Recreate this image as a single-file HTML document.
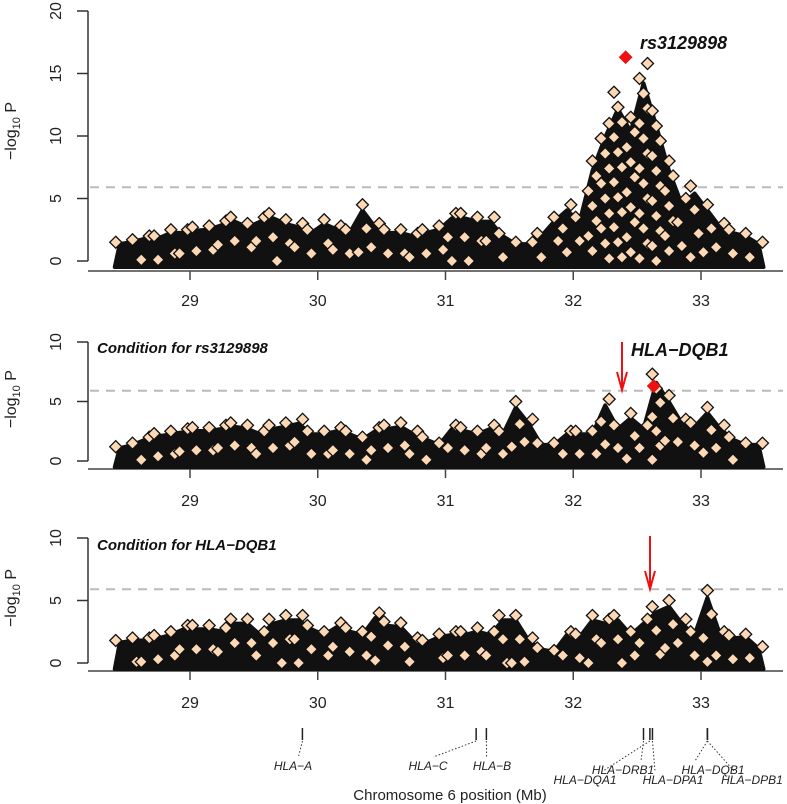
<!DOCTYPE html>
<html><head><meta charset="utf-8"><style>
body{margin:0;background:#fff}
svg{display:block}
text{font-family:"Liberation Sans",Arial,sans-serif}
</style></head><body>
<svg id="chart" width="787" height="804" viewBox="0 0 787 804" xmlns="http://www.w3.org/2000/svg"></svg>
<script>
// Bin positions (Mb) and per-panel peak -log10 P values
const positions = [28.45,28.55,28.65,28.75,28.85,28.95,29.05,29.15,29.25,29.35,29.45,29.55,29.65,29.75,29.85,29.95,30.05,30.15,30.25,30.35,30.45,30.55,30.65,30.75,30.85,30.95,31.05,31.15,31.25,31.35,31.45,31.55,31.65,31.75,31.85,31.95,32.05,32.15,32.25,32.35,32.45,32.55,32.65,32.75,32.85,32.95,33.05,33.15,33.25,33.35,33.45];
const panel1Values = [1.5,1.7,2,2,2.5,2.5,2.7,2.8,3.2,3.5,3,3.5,3.8,3.3,3,2.5,3.3,2.8,2.5,4.5,3,2.5,2.5,2.2,2.5,2.8,3.8,3.8,3.5,3.5,2.2,1.5,1.5,2.2,3.5,4.5,3.5,8,11,13.5,11.5,15.8,12,8,5,6,4.5,3,2.5,2.2,1.5];
const panel2Values = [1.2,1.5,2,2.3,2.5,2.7,2.8,2.8,3,3.2,3,2.5,3,3.2,3.5,2.5,2.5,2.8,2.5,2,2.8,3,3.2,2.5,2,1.5,3,2.8,2.5,3,2.5,5,3.5,1.5,1.5,2.5,2.5,2.5,5.2,3,4,3,7.3,5.5,3.5,3.2,4.5,3,2,1.5,1.5];
const panel3Values = [1.8,2,2,2.2,2.5,3,3,3,2.8,3.5,3.5,2.5,3.5,3.8,3.8,3,2.5,3.2,2.8,2.5,4,3.3,3.2,2,1.8,2.3,2.5,2.5,2.8,2.5,3.8,3.8,2,1.2,1,2.5,2.3,3.8,3.5,3.8,2.5,3.5,4.5,5,3.5,2.5,5.8,2.5,2.2,2.3,1.3];
const xTicks = [29,30,31,32,33];
const panel1YTicks = [0,5,10,15,20];
const smallYTicks = [0,5,10];
const threshold = 5.9;
const leadSnp = [32.41, 16.3];
const condSnp = [32.63, 6.3];
const genes = ["HLA-A","HLA-C","HLA-B","HLA-DRB1","HLA-DQA1","HLA-DPA1","HLA-DQB1","HLA-DPB1"];
const genePos = [29.88,31.24,31.32,32.55,32.6,32.62,33.05,33.05];

const NS="http://www.w3.org/2000/svg";
const svg=document.getElementById('chart');
function mk(tag,attrs,parent){const e=document.createElementNS(NS,tag);for(const k in attrs)e.setAttribute(k,attrs[k]);(parent||svg).appendChild(e);return e;}
const xS=v=>190+(v-29)*127.75;
const panels=[
 {vals:panel1Values,y0:261,k:12.5,max:20,ticks:panel1YTicks,axisY:271,labY:306,name:'panel-unconditional'},
 {vals:panel2Values,y0:461,k:11.9,max:10,ticks:smallYTicks,axisY:469,labY:506,name:'panel-condition-rs3129898'},
 {vals:panel3Values,y0:663,k:12.5,max:10,ticks:smallYTicks,axisY:671,labY:708,name:'panel-condition-hla-dqb1'}
];
function diamond(cx,cy,fill,g){const r=6;const p=mk('polygon',{points:`${cx},${cy-r} ${cx+r},${cy} ${cx},${cy+r} ${cx-r},${cy}`,fill:fill,stroke:'#111','stroke-width':1.3},g);return p;}
panels.forEach((P,pi)=>{
 const g=mk('g',{});
 
 
 const yS=v=>P.y0-v*P.k;
 const ya=mk('line',{x1:88,x2:88,y1:yS(0),y2:yS(P.max),stroke:'#333','stroke-width':1.5},g);
 
 
 P.ticks.forEach(t=>{
  mk('line',{x1:77,x2:88,y1:yS(t),y2:yS(t),stroke:'#333','stroke-width':1.5},g);
  const tx=mk('text',{x:0,y:0,'font-size':16,fill:'#222','text-anchor':'middle',transform:`translate(61,${yS(t)}) rotate(-90)`},g);
  tx.textContent=t;
  
  
 });
 const yt=mk('text',{x:0,y:0,'font-size':16,fill:'#222','text-anchor':'middle',transform:`translate(16,${yS(P.max*0.52)}) rotate(-90)`},g);
 yt.innerHTML='−log<tspan font-size="11" dy="4">10</tspan><tspan dy="-4"> P</tspan>';
 
 
 const th=mk('line',{x1:90,x2:783,y1:yS(threshold),y2:yS(threshold),stroke:'#bbb','stroke-width':2,'stroke-dasharray':'9,7'},g);
 
 
 const xa=mk('line',{x1:88,x2:783,y1:P.axisY,y2:P.axisY,stroke:'#444','stroke-width':1.5},g);
 
 
 xTicks.forEach(t=>{
  mk('line',{x1:xS(t),x2:xS(t),y1:P.axisY,y2:P.axisY+9,stroke:'#444','stroke-width':1.5},g);
  const tx=mk('text',{x:xS(t),y:P.labY,'font-size':16,fill:'#222','text-anchor':'middle'},g);
  tx.textContent=t;
  
  
 });
 let pts=`${xS(positions[0])-5},${yS(0)+6} `;
 positions.forEach((p,i)=>{pts+=`${xS(p)},${yS(Math.max(0,P.vals[i]*0.9))} `;});
 pts+=`${xS(positions[positions.length-1])+5},${yS(0)+6}`;
 const band=mk('polygon',{points:pts,fill:'#111',stroke:'#111','stroke-width':4,'stroke-linejoin':'round'},g);
 
 
 positions.forEach((p,i)=>{
  const v=P.vals[i];
  const step=v>6?1.2:1.9;
  for(let s=v,j=0;s>=0;s-=step,j++){
   const off=((i+j)%3-1)*4;
   const d=diamond(xS(p)+off,yS(s),'#fcd8b4',g);
   
   
  }
 });
});
const y1=v=>261-v*12.5, y2=v=>461-v*11.9;
const lead=diamond(xS(leadSnp[0]),y1(leadSnp[1]),'#ee1111');
lead.setAttribute('stroke','#ee1111');


const cs=diamond(xS(condSnp[0]),y2(condSnp[1]),'#ee1111');
cs.setAttribute('stroke','#ee1111');


function label(t,x,y,size,name){const e=mk('text',{x:x,y:y,'font-size':size,'font-weight':'bold','font-style':'italic',fill:'#111'});e.textContent=t;return e;}
label('rs3129898',640,49,18,'lead-snp-label');
label('Condition for rs3129898',97,353,15,'panel2-title');
label('HLA\u2212DQB1',631,356,18,'hla-dqb1-label');
label('Condition for HLA\u2212DQB1',97,550,15,'panel3-title');
function arrow(x,ya,yb,name){const g=mk('g',{});
 mk('line',{x1:x,x2:x,y1:ya,y2:yb,stroke:'#e11','stroke-width':2},g);
 mk('polyline',{points:`${x-5},${yb-18} ${x},${yb} ${x+5},${yb-18}`,fill:'none',stroke:'#e11','stroke-width':2},g);}
arrow(622,342,390,'arrow-rs3129898');
arrow(650,536,589,'arrow-hla-dqb1');
const gg=mk('g',{});
const labelPos=[[293,770],[428,770],[492,770],[623,774],[585,784],[673,784],[713,774],[752,784]];
genes.forEach((n,i)=>{
 const x=xS(genePos[i]);
 mk('line',{x1:x,x2:x,y1:728,y2:740,stroke:'#222','stroke-width':1.5},gg);
 mk('line',{x1:x,x2:labelPos[i][0]+(labelPos[i][0]<x?18:-18)*(i>2?1:0.3),y1:741,y2:labelPos[i][1]-13,stroke:'#333','stroke-width':1,'stroke-dasharray':'1.5,2'},gg);
 const t=mk('text',{x:labelPos[i][0],y:labelPos[i][1],'font-size':12,'font-style':'italic',fill:'#222','text-anchor':'middle'},gg);
 t.textContent=n.replace('-','\u2212');
 
 
});
const xt=mk('text',{x:450,y:800,'font-size':15,fill:'#222','text-anchor':'middle'});
xt.textContent='Chromosome 6 position (Mb)';


</script>
</body></html>
